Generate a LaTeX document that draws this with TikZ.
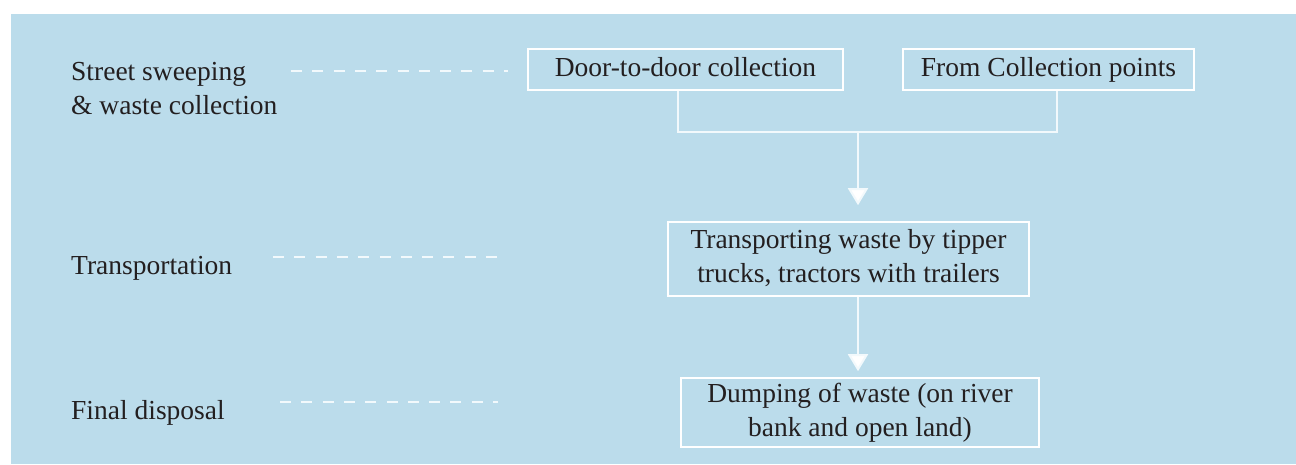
\documentclass[tikz,border=0pt]{standalone}
\usepackage{fontspec}
\setmainfont{Liberation Serif}
\usetikzlibrary{arrows.meta}
\definecolor{bgblue}{HTML}{BBDCEB}
\definecolor{txt}{HTML}{231F20}
\definecolor{ln}{HTML}{F2F9FC}
\newcommand{\onestrut}{\rule[-6.5pt]{0pt}{27.5pt}}
\begin{document}
\begin{tikzpicture}[x=1pt,y=-1pt,
  font=\fontsize{27.5}{34}\selectfont,
  box/.style={draw=white, line width=1.6pt, text=txt, align=center, inner sep=0pt},
  lab/.style={anchor=west, text=txt, align=left, inner sep=0pt},
  conn/.style={draw=ln, line width=2pt},
  arr/.style={conn, -{Triangle[width=20pt,length=17pt,fill=white]}},
  dashline/.style={draw=ln, line width=1.6pt, dash pattern=on 11pt off 10.3pt}]
\useasboundingbox (0,0) rectangle (1296,464);
\fill[bgblue] (11,14) rectangle (1296,464);
% boxes
\node[box, minimum width=315pt, minimum height=41pt] (b1) at (685.5,69.5) {\onestrut Door-to-door collection};
\node[box, minimum width=291pt, minimum height=41pt] (b2) at (1048.5,69.5) {\onestrut From Collection points};
\node[box, minimum width=361pt, minimum height=74pt] (b3) at (848.5,259) {\strut Transporting waste by tipper\\\strut trucks, tractors with trailers};
\node[box, minimum width=358pt, minimum height=69pt] (b4) at (860,412.5) {\strut Dumping of waste (on river\\\strut bank and open land)};
% labels
\node[lab] (l1) at (71,90.5) {\strut Street sweeping\\\strut \& waste collection};
\node[lab] (l2) at (71,267) {\onestrut Transportation};
\node[lab] (l3) at (71,412) {\onestrut Final disposal};
% dashed guides
\coordinate (d1s) at (291,71); \coordinate (d1e) at (508,71);
\coordinate (d2s) at (273,257); \coordinate (d2e) at (498,257);
\coordinate (d3s) at (280,402); \coordinate (d3e) at (498,402);
\draw[dashline] (d1s) -- (d1e);
\draw[dashline] (d2s) -- (d2e);
\draw[dashline] (d3s) -- (d3e);
% connectors
\coordinate (jl) at (678,131.5);
\coordinate (jr) at (1057,131.5);
\coordinate (jm) at (858,131.5);
\draw[conn] (b1.south -| jl) -- (jl) -- (jr) -- (b2.south -| jr);
\draw[arr, shorten >=16pt] (jm) -- (b3.north -| jm);
\draw[arr, shorten >=6pt] (b3.south -| jm) -- (b4.north -| jm);
\end{tikzpicture}
\end{document}
